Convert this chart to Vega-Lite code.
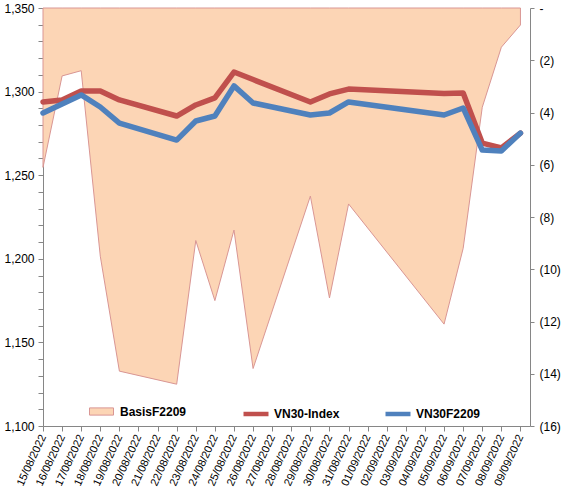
{
  "$schema": "https://vega.github.io/schema/vega-lite/v6.json",
  "width": 487,
  "height": 418,
  "autosize": "none",
  "padding": {"left": 43, "top": 8, "right": 41, "bottom": 68},
  "background": "white",
  "config": {
    "view": {"stroke": null},
    "font": "Liberation Sans",
    "axis": {"grid": false, "title": null, "domainColor": "#868686", "tickColor": "#868686", "labelColor": "#000000", "labelFont": "Liberation Sans"}
  },
  "datasets": {
    "basis": [
      {"date": "2022-08-15", "series": "BasisF2209", "basis": -6.1},
      {"date": "2022-08-16", "series": "BasisF2209", "basis": -2.6},
      {"date": "2022-08-17", "series": "BasisF2209", "basis": -2.4},
      {"date": "2022-08-18", "series": "BasisF2209", "basis": -9.5},
      {"date": "2022-08-19", "series": "BasisF2209", "basis": -13.9},
      {"date": "2022-08-22", "series": "BasisF2209", "basis": -14.4},
      {"date": "2022-08-23", "series": "BasisF2209", "basis": -8.9},
      {"date": "2022-08-24", "series": "BasisF2209", "basis": -11.2},
      {"date": "2022-08-25", "series": "BasisF2209", "basis": -8.5},
      {"date": "2022-08-26", "series": "BasisF2209", "basis": -13.8},
      {"date": "2022-08-29", "series": "BasisF2209", "basis": -7.2},
      {"date": "2022-08-30", "series": "BasisF2209", "basis": -11.1},
      {"date": "2022-08-31", "series": "BasisF2209", "basis": -7.5},
      {"date": "2022-09-05", "series": "BasisF2209", "basis": -12.1},
      {"date": "2022-09-06", "series": "BasisF2209", "basis": -9.2},
      {"date": "2022-09-07", "series": "BasisF2209", "basis": -3.8},
      {"date": "2022-09-08", "series": "BasisF2209", "basis": -1.5},
      {"date": "2022-09-09", "series": "BasisF2209", "basis": -0.65}
    ],
    "prices": [
      {"date": "2022-08-15", "series": "VN30-Index", "value": 1293.8},
      {"date": "2022-08-16", "series": "VN30-Index", "value": 1295.0},
      {"date": "2022-08-17", "series": "VN30-Index", "value": 1300.4},
      {"date": "2022-08-18", "series": "VN30-Index", "value": 1300.4},
      {"date": "2022-08-19", "series": "VN30-Index", "value": 1295.0},
      {"date": "2022-08-22", "series": "VN30-Index", "value": 1285.4},
      {"date": "2022-08-23", "series": "VN30-Index", "value": 1292.0},
      {"date": "2022-08-24", "series": "VN30-Index", "value": 1296.2},
      {"date": "2022-08-25", "series": "VN30-Index", "value": 1311.7},
      {"date": "2022-08-26", "series": "VN30-Index", "value": 1307.2},
      {"date": "2022-08-29", "series": "VN30-Index", "value": 1293.8},
      {"date": "2022-08-30", "series": "VN30-Index", "value": 1298.6},
      {"date": "2022-08-31", "series": "VN30-Index", "value": 1301.5},
      {"date": "2022-09-05", "series": "VN30-Index", "value": 1298.8},
      {"date": "2022-09-06", "series": "VN30-Index", "value": 1299.2},
      {"date": "2022-09-07", "series": "VN30-Index", "value": 1269.2},
      {"date": "2022-09-08", "series": "VN30-Index", "value": 1266.3},
      {"date": "2022-09-09", "series": "VN30-Index", "value": 1275.2},
      {"date": "2022-08-15", "series": "VN30F2209", "value": 1287.2},
      {"date": "2022-08-16", "series": "VN30F2209", "value": 1292.6},
      {"date": "2022-08-17", "series": "VN30F2209", "value": 1298.0},
      {"date": "2022-08-18", "series": "VN30F2209", "value": 1290.8},
      {"date": "2022-08-19", "series": "VN30F2209", "value": 1281.2},
      {"date": "2022-08-22", "series": "VN30F2209", "value": 1271.0},
      {"date": "2022-08-23", "series": "VN30F2209", "value": 1282.4},
      {"date": "2022-08-24", "series": "VN30F2209", "value": 1285.4},
      {"date": "2022-08-25", "series": "VN30F2209", "value": 1303.4},
      {"date": "2022-08-26", "series": "VN30F2209", "value": 1293.2},
      {"date": "2022-08-29", "series": "VN30F2209", "value": 1286.0},
      {"date": "2022-08-30", "series": "VN30F2209", "value": 1287.2},
      {"date": "2022-08-31", "series": "VN30F2209", "value": 1293.8},
      {"date": "2022-09-05", "series": "VN30F2209", "value": 1286.0},
      {"date": "2022-09-06", "series": "VN30F2209", "value": 1290.2},
      {"date": "2022-09-07", "series": "VN30F2209", "value": 1265.0},
      {"date": "2022-09-08", "series": "VN30F2209", "value": 1264.5},
      {"date": "2022-09-09", "series": "VN30F2209", "value": 1275.2}
    ]
  },
  "encoding": {
    "x": {
      "field": "date",
      "type": "temporal",
      "scale": {
        "type": "utc",
        "domain": [
          {"year": 2022, "month": 8, "date": 15, "utc": true},
          {"year": 2022, "month": 9, "date": 9, "hours": 12, "utc": true}
        ]
      },
      "axis": {
        "tickCount": {"interval": "day", "step": 1},
        "labelExpr": "utcFormat(datum.value, '%d/%m/%Y')",
        "labelAngle": -65,
        "labelAlign": "right",
        "labelBaseline": "middle",
        "labelFontSize": 11,
        "labelOverlap": false,
        "labelFlush": false,
        "labelPadding": 4,
        "tickSize": 5
      }
    }
  },
  "layer": [
    {
      "data": {"name": "basis"},
      "mark": {"type": "area", "stroke": "#D99694", "strokeWidth": 1, "interpolate": "linear"},
      "encoding": {
        "y": {
          "field": "basis",
          "type": "quantitative",
          "scale": {"domain": [-16, 0], "nice": false, "zero": false},
          "axis": {
            "orient": "right",
            "values": [-16, -14, -12, -10, -8, -6, -4, -2, 0],
            "labelExpr": "datum.value == 0 ? '-' : '(' + abs(datum.value) + ')'",
            "labelFontSize": 12,
            "tickSize": 4,
            "labelPadding": 5
          }
        },
        "y2": {"datum": 0},
        "fill": {
          "field": "series",
          "type": "nominal",
          "scale": {"domain": ["BasisF2209"], "range": ["#FCD5B5"]},
          "legend": {
            "orient": "none",
            "legendX": 46,
            "legendY": 391,
            "direction": "horizontal",
            "title": null,
            "padding": 0,
            "symbolType": "M-1,-0.3H1V0.3H-1Z",
            "symbolSize": 576,
            "symbolStrokeColor": "#D99694",
            "symbolStrokeWidth": 1,
            "labelFontSize": 12,
            "labelFontWeight": "bold",
            "labelColor": "#000000",
            "labelOffset": 6
          }
        }
      }
    },
    {
      "data": {"name": "prices"},
      "mark": {"type": "line", "strokeWidth": 5.5, "strokeCap": "round", "strokeJoin": "round"},
      "encoding": {
        "y": {
          "field": "value",
          "type": "quantitative",
          "scale": {"domain": [1100, 1350], "nice": false, "zero": false},
          "axis": {
            "orient": "left",
            "values": [1100, 1110, 1120, 1130, 1140, 1150, 1160, 1170, 1180, 1190, 1200, 1210, 1220, 1230, 1240, 1250, 1260, 1270, 1280, 1290, 1300, 1310, 1320, 1330, 1340, 1350],
            "labelExpr": "datum.value % 50 == 0 ? format(datum.value, ',') : ''",
            "labelFontSize": 12,
            "tickSize": 5,
            "labelPadding": 4
          }
        },
        "stroke": {
          "field": "series",
          "type": "nominal",
          "scale": {"domain": ["VN30-Index", "VN30F2209"], "range": ["#C0504D", "#4F81BD"]},
          "legend": {
            "orient": "none",
            "legendX": 198,
            "legendY": 391,
            "direction": "horizontal",
            "title": null,
            "padding": 0,
            "symbolType": "stroke",
            "symbolSize": 625,
            "symbolStrokeWidth": 4.5,
            "labelFontSize": 12,
            "labelFontWeight": "bold",
            "labelColor": "#000000",
            "labelOffset": 3,
            "columnPadding": 36
          }
        }
      }
    }
  ],
  "resolve": {"scale": {"y": "independent"}, "axis": {"y": "independent"}}
}
